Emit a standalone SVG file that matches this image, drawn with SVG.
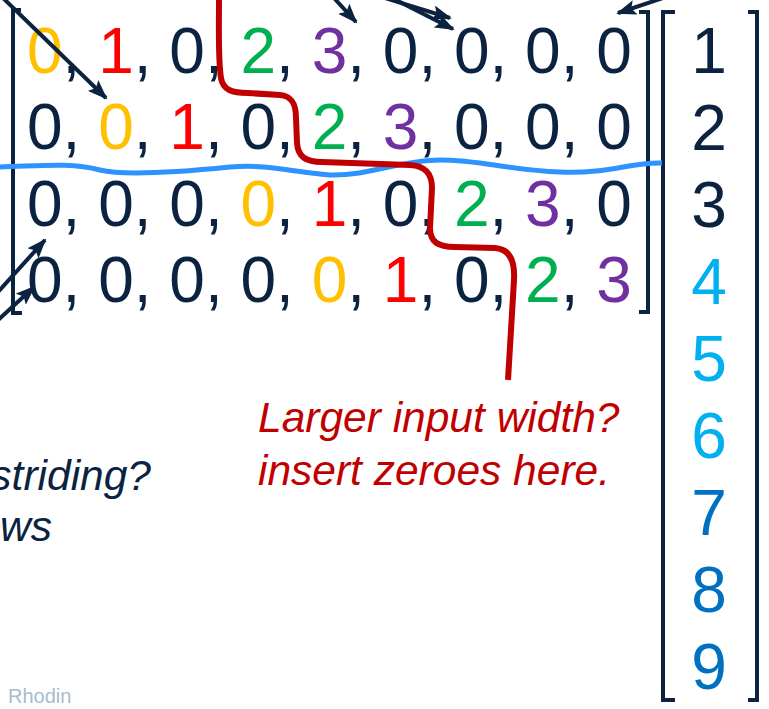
<svg xmlns="http://www.w3.org/2000/svg" width="769" height="709" viewBox="0 0 769 709">
<style>
text{font-family:"Liberation Sans",Arial,sans-serif}
.m{font-size:64px;fill:#0b2341}
.y{fill:#FFC000}.r{fill:#FF0000}.g{fill:#00B050}.p{fill:#7030A0}
.lb{fill:#00B0F0}.mb{fill:#0070C0}
.br{fill:none;stroke:#0b2341;stroke-width:4}
.ar{stroke:#0b2341;stroke-width:4;fill:none;marker-end:url(#ah)}
.note{font-size:42.5px;font-style:italic}
</style>
<defs>
<marker id="ah" viewBox="0 0 20 15" refX="18" refY="7.5" markerWidth="20" markerHeight="15" markerUnits="userSpaceOnUse" orient="auto"><path d="M0,0 L20,7.5 L0,15 L4,7.5 z" fill="#0b2341"/></marker>
</defs>
<rect width="769" height="709" fill="#fff"/>
<g id="matrix">
<path class="br" d="M21,10 H13 V313 H22"/>
<path class="br" d="M639,12 H648 V312 H639"/>
<text class="m" x="27" y="73"><tspan class="y">0</tspan>, <tspan class="r">1</tspan>, 0, <tspan class="g">2</tspan>, <tspan class="p">3</tspan>, 0, 0, 0, 0</text>
<text class="m" x="27" y="149">0, <tspan class="y">0</tspan>, <tspan class="r">1</tspan>, 0, <tspan class="g">2</tspan>, <tspan class="p">3</tspan>, 0, 0, 0</text>
<text class="m" x="27" y="226">0, 0, 0, <tspan class="y">0</tspan>, <tspan class="r">1</tspan>, 0, <tspan class="g">2</tspan>, <tspan class="p">3</tspan>, 0</text>
<text class="m" x="27" y="302">0, 0, 0, 0, <tspan class="y">0</tspan>, <tspan class="r">1</tspan>, 0, <tspan class="g">2</tspan>, <tspan class="p">3</tspan></text>
</g>
<g id="vector">
<path class="br" d="M675,12 H663 V700 H675"/>
<path class="br" d="M748,12 H757 V700 H748"/>
<g text-anchor="middle">
<text class="m" x="709" y="73">1</text>
<text class="m" x="709" y="150">2</text>
<text class="m" x="709" y="227">3</text>
<text class="m lb" x="709" y="304">4</text>
<text class="m lb" x="709" y="381">5</text>
<text class="m lb" x="709" y="458">6</text>
<text class="m mb" x="709" y="535">7</text>
<text class="m mb" x="709" y="612">8</text>
<text class="m mb" x="709" y="689">9</text>
</g>
</g>
<g id="annotations">
<path d="M0,167 C40,166 70,162 100,170 C120,175 170,173 230,167 C270,164 290,172 330,175 C370,176 400,160 440,160 C480,160 510,170 560,172 C610,174 630,162 662,163" fill="none" stroke="#2E93FF" stroke-width="5"/>
<path d="M219,0 C219,30 218,60 221,78 C223,90 232,93 248,93 L280,95 C292,96 296,104 296,118 L297,143 C298,157 306,162 322,162 L410,165 C426,166 432,174 432,188 L430,228 C430,242 438,247 455,247 L495,248 C510,249 515,262 514,280 L508,380" fill="none" stroke="#C00000" stroke-width="6"/>
</g>
<g id="connectors">
<line class="ar" x1="2" y1="-3" x2="106" y2="98"/>
<line class="ar" x1="334" y1="-2" x2="356" y2="22"/>
<line class="ar" x1="385" y1="-2" x2="450" y2="18"/>
<line class="ar" x1="392" y1="-2" x2="453" y2="29"/>
<line class="ar" x1="666" y1="-3" x2="618" y2="13"/>
<line class="ar" x1="-2" y1="292" x2="45" y2="240"/>
<line class="ar" x1="-2" y1="320" x2="34" y2="287"/>
</g>
<g id="label-width">
<text class="note" fill="#C00000" x="258" y="432">Larger input width?</text>
<text class="note" fill="#C00000" x="258" y="485">insert zeroes here.</text>
</g>
<g id="label-striding">
<text class="note" fill="#0b2341" x="151" y="490" text-anchor="end">striding?</text>
<text class="note" fill="#0b2341" x="52" y="541" text-anchor="end">ws</text>
</g>
<text x="8" y="703" font-size="20" fill="#A9BCCB">Rhodin</text>
</svg>
